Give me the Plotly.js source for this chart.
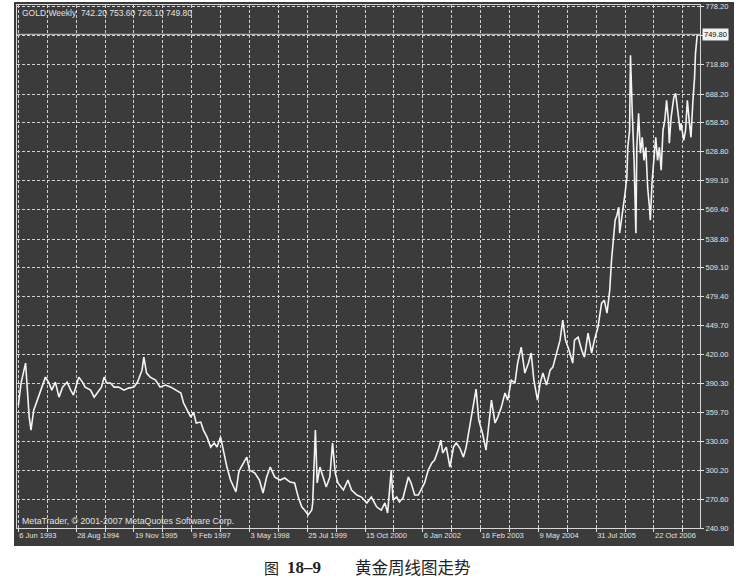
<!DOCTYPE html>
<html>
<head>
<meta charset="utf-8">
<script src="https://cdn.plot.ly/plotly-3.0.1.min.js"></script>
<style>body{margin:0;background:#fff}</style>
</head>
<body>
<div id="chart" style="width:754px;height:578px"></div>
<script>
// weekly bars counted from 6 Jun 1993, closes
const weekIdx = [0,3,8,10,12,14,17,21,26,30,34,37,41,45,49,54,58,61,67,71,74,80,84,87,92,95,98,102,106,111,117,122,128,132,137,139,142,146,152,157,163,169,174,180,183,187,191,194,197,202,205,209,213,217,220,224,227,231,235,239,241,244,245,253,256,262,267,271,275,279,284,290,295,301,306,310,314,317,321,325,326,329,331,334,338,341,345,348,351,354,360,365,369,375,380,386,391,397,402,406,409,413,415,419,422,426,432,435,439,443,447,450,454,458,461,465,468,470,474,478,482,485,489,493,496,502,507,510,514,518,522,524,528,531,535,539,542,546,550,553,557,561,565,568,571,575,578,581,585,589,592,596,600,603,606,610,614,616,620,624,627,631,635,638,642,646,649,652,655,657,659,661,663,665,666,668,670,672,674,675,677,678,680,682,684,685,687,689,691,693,695,697,699,700,702,704,706,708,710,712,714,716,718,720,721,723,726,728,730,733,734,737,739,741,743,745,747,749,750,752];
const closes = [367.6,390.3,410.9,380.0,355.2,341.8,362.4,372.7,386.1,396.4,390.3,383.0,391.3,375.8,386.1,391.3,383.0,377.9,396.4,391.3,386.1,383.0,375.8,380.0,386.1,396.4,390.3,390.3,386.1,386.1,383.0,385.1,386.1,391.3,403.6,417.0,400.6,396.4,393.3,386.1,388.2,386.1,383.0,380.0,369.7,362.4,355.2,360.4,349.1,350.1,341.8,334.6,324.3,328.5,324.3,334.6,321.2,303.7,290.3,283.1,278.0,297.6,300.6,314.0,300.6,297.6,290.3,277.0,293.4,303.7,293.4,290.3,292.4,288.3,287.3,272.8,262.5,259.4,254.3,259.4,266.7,341.8,287.3,303.7,290.3,283.1,293.4,328.5,297.6,287.3,280.0,290.3,280.0,274.9,272.8,266.7,272.8,262.5,259.4,266.7,256.4,300.6,269.7,272.8,267.7,271.8,293.4,287.3,274.9,274.9,282.1,287.3,300.6,307.9,310.9,321.2,331.5,318.2,324.3,303.7,324.3,328.5,323.3,314.0,324.3,355.2,384.1,352.1,338.8,321.2,355.2,372.7,349.1,355.2,365.5,380.0,372.7,393.3,390.3,410.9,427.3,400.6,410.9,421.2,393.3,372.7,390.3,400.6,388.2,403.6,406.7,421.2,434.5,455.1,434.5,424.2,410.9,434.5,437.6,424.2,417.0,441.8,421.2,434.5,447.9,472.7,475.7,462.4,486.0,516.9,537.5,558.1,563.3,571.5,544.8,558.1,568.4,585.9,602.4,633.3,650.8,728.1,668.4,619.9,544.8,633.3,668.4,627.2,643.6,619.9,633.3,592.1,571.5,558.1,599.3,627.2,643.6,619.9,633.3,609.6,650.8,661.1,681.7,661.1,637.5,664.2,684.8,689.0,671.4,650.8,658.1,640.5,650.8,681.7,661.1,643.6,678.7,705.4,730.2,749.8];

const xTickText = ["6 Jun 1993","28 Aug 1994","19 Nov 1995","9 Feb 1997","3 May 1998","25 Jul 1999","15 Oct 2000","6 Jan 2002","16 Feb 2003","9 May 2004","31 Jul 2005","22 Oct 2006"];
const yTickText = ["240.90","270.60","300.20","330.00","359.70","390.30","420.00","449.70","479.40","509.10","538.80","569.40","599.10","628.80","658.50","688.20","718.80","748.50","778.20"];
const headerText = "GOLD,Weekly  742.20 753.60 726.10 749.80";
const lastClose = 749.80;

// one label every 64 bars, a grid line every 32
const xGridVals = [];
const xGridText = [];
for (let k = 0; k < 24; k++) {
  xGridVals.push(k * 32);
  xGridText.push(k % 2 === 0 && xTickText[k / 2] ? xTickText[k / 2] : "");
}

const W = 754, H = 578;
const m = {l: 17, r: 54, t: 5, b: 50};
const pw = W - m.l - m.r, ph = H - m.t - m.b;
const px = (x) => (x - m.l) / pw;
const py = (y) => (H - m.b - y) / ph;

const bg = "#3b3b3b";
const ink = "#e2e2e2";
const sans = "Liberation Sans, Arial, sans-serif";
const tickFont = {family: sans, size: 7.5, color: ink};

const trace = {
  x: weekIdx,
  y: closes,
  type: "scatter",
  mode: "lines",
  line: {color: "#f4f4f4", width: 1.6},
  hoverinfo: "skip",
};

const layout = {
  width: W,
  height: H,
  margin: m,
  paper_bgcolor: "#ffffff",
  plot_bgcolor: bg,
  showlegend: false,
  xaxis: {
    range: [-1.5, 755],
    tickvals: xGridVals,
    ticktext: xGridText,
    ticklabelposition: "outside right",
    ticks: "outside",
    ticklen: 3,
    tickcolor: ink,
    tickfont: tickFont,
    showgrid: true,
    gridcolor: "#d2d2d2",
    griddash: "3px,2px",
    gridwidth: 1,
    showline: true,
    linecolor: "#d8d8d8",
    mirror: true,
    zeroline: false,
    fixedrange: true,
  },
  yaxis: {
    side: "right",
    range: [240.9, 780],
    tickvals: yTickText.map(Number),
    ticktext: yTickText,
    ticks: "outside",
    ticklen: 3,
    tickcolor: ink,
    tickfont: tickFont,
    showgrid: true,
    gridcolor: "#d2d2d2",
    griddash: "3px,2px",
    gridwidth: 1,
    showline: true,
    linecolor: "#d8d8d8",
    mirror: true,
    zeroline: false,
    fixedrange: true,
  },
  shapes: [
    // dark window behind plot and axis labels
    {type: "rect", xref: "paper", yref: "paper", layer: "below",
     x0: px(14), x1: px(734), y0: py(546), y1: py(2),
     fillcolor: bg, line: {width: 0}},
    // current price line
    {type: "line", xref: "paper", yref: "y", x0: 0, x1: 1,
     y0: lastClose, y1: lastClose, line: {color: "#cfcfcf", width: 1}},
  ],
  annotations: [
    {text: headerText, xref: "paper", yref: "paper", x: px(20), y: py(13),
     xanchor: "left", yanchor: "middle", showarrow: false,
     font: {family: sans, size: 8.5, color: ink}},
    {text: "MetaTrader, © 2001-2007 MetaQuotes Software Corp.", xref: "paper", yref: "paper",
     x: px(20), y: py(521), xanchor: "left", yanchor: "middle", showarrow: false,
     font: {family: sans, size: 8.8, color: ink}},
    {text: lastClose.toFixed(2), xref: "paper", yref: "y", x: 1, xshift: 2, y: lastClose,
     xanchor: "left", yanchor: "middle", showarrow: false, bgcolor: "#f2f2f2",
     borderpad: 1, font: {family: sans, size: 7.5, color: "#111"}},
    {text: "图", xref: "paper", yref: "paper", x: px(262), y: py(567),
     xanchor: "left", yanchor: "middle", showarrow: false,
     font: {family: "Noto Sans CJK SC, sans-serif", size: 15, color: "#222"}},
    {text: "<b>18–9</b>", xref: "paper", yref: "paper", x: px(285), y: py(567),
     xanchor: "left", yanchor: "middle", showarrow: false,
     font: {family: "Liberation Serif, serif", size: 17, color: "#222"}},
    {text: "黄金周线图走势", xref: "paper", yref: "paper", x: px(353), y: py(567),
     xanchor: "left", yanchor: "middle", showarrow: false,
     font: {family: "Noto Sans CJK SC, sans-serif", size: 16.5, color: "#222"}},
  ],
};

Plotly.newPlot("chart", [trace], layout, {staticPlot: true});
</script>
</body>
</html>
